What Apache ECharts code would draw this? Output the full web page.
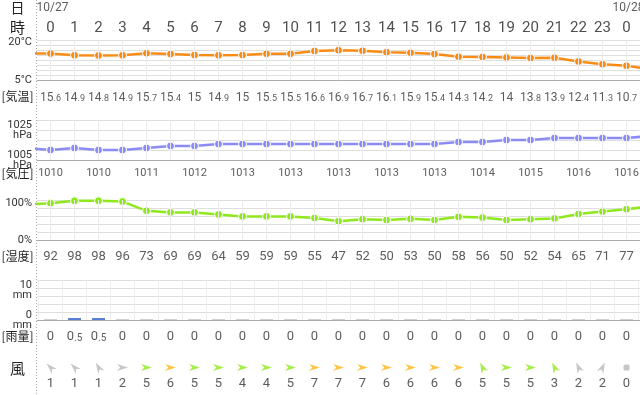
<!DOCTYPE html>
<html><head><meta charset="utf-8">
<script src="https://cdn.jsdelivr.net/npm/echarts@6/dist/echarts.min.js"></script>
<style>html,body{margin:0;padding:0;background:#fff}#c{width:640px;height:395px}</style>
</head><body><div id="c"></div>
<script>
// ---- data ----
const hours = [0,1,2,3,4,5,6,7,8,9,10,11,12,13,14,15,16,17,18,19,20,21,22,23,0];
const dateLabels = ['10/27','10/28'];
const temps = [15.6,14.9,14.8,14.9,15.7,15.4,15,14.9,15,15.5,15.5,16.6,16.9,16.7,16.1,15.9,15.4,14.3,14.2,14,13.8,13.9,12.4,11.3,10.7];
const tempEdges = [15.6, 9.3];          // partly visible hour before / after
const pressures = [1010,1011,1010,1010,1011,1012,1012,1013,1013,1013,1013,1013,1013,1013,1013,1013,1013,1014,1014,1015,1015,1016,1016,1016,1016];
const pressureEdges = [1011, 1017];
const humidity = [92,98,98,96,73,69,69,64,59,59,59,55,47,52,50,53,50,58,56,50,52,54,65,71,77];
const humidityEdges = [89, 84];
const rain = [0,0.5,0.5,0,0,0,0,0,0,0,0,0,0,0,0,0,0,0,0,0,0,0,0,0,0];
const windSpeed = [1,1,1,2,5,6,5,5,4,4,5,7,7,7,6,6,6,6,5,5,5,3,2,2,0];
const windDir = [135,135,120,0,0,0,0,0,0,0,0,0,0,0,0,0,0,0,115,0,0,115,115,65,null];
const tempTicks = [20, 5];
const pressureTicks = [1025, 1005];
const humidityTicks = [100, 0];
const rainTicks = [10, 0];

// ---- styles / layout ----
const C = {temp:'#fa8c16', pres:'#8b8bf8', hum:'#8ee81c', rainBar:'#5a7dd6', rainZero:'#cfcfcf',
  windGray:'#b8b8b8', windGreen:'#8ee81c', windOrange:'#ffb81c', grid:'#dedede', vgrid:'#ececec', axis:'#aaaaaa', text:'#333'};
const N = hours.length;
const X_MIN = -0.5625, X_MAX = 24.5625;
const NUMF = 'Roboto, sans-serif';
const CJK = '"Noto Sans CJK JP", sans-serif';
const ARROW = 'path://M10,4 L0,0 L3,4 L0,8 Z';

const grids = [
  {left:37, right:0, top:40, height:40},
  {left:37, right:0, top:120, height:40},
  {left:37, right:0, top:200, height:40},
  {left:37, right:0, top:280, height:40},
  {left:37, right:0, top:360, height:15}
];
const xAxes = grids.map((g,i)=>({type:'value', gridIndex:i, min:X_MIN, max:X_MAX,
  axisLine:{show:i<4, onZero:false, lineStyle:{color:C.axis}}, axisTick:{show:false}, axisLabel:{show:false}, splitLine:{show:false}}));

function yLabel(ticks, unit, nl){
  return v => ticks.includes(v) ? (v + (nl ? '\n' : '') + unit) : '';
}
const baseY = {type:'value', position:'left', axisLine:{show:false}, axisTick:{show:false}, splitLine:{show:true, lineStyle:{color:C.grid}}};
const yAxes = [
  Object.assign({}, baseY, {gridIndex:0, min:5, max:21, interval:2, axisLabel:{show:false}}),
  {type:'value', gridIndex:0, position:'left', min:5, max:21, interval:5, axisLine:{show:false}, axisTick:{show:false}, splitLine:{show:false},
    axisLabel:{formatter:yLabel(tempTicks,'°C'), margin:5, fontSize:11, color:C.text, fontFamily:'Roboto', showMaxLabel:false}},
  Object.assign({}, baseY, {gridIndex:1, min:1005, max:1025, interval:5,
    axisLabel:{formatter:yLabel(pressureTicks,'hPa',true), margin:5, fontSize:11, lineHeight:10, color:C.text, fontFamily:'Roboto',
      verticalAlignMaxLabel:'top', verticalAlignMinLabel:'middle', padding:[0,0,8,0]}}),
  Object.assign({}, baseY, {gridIndex:2, min:0, max:100, interval:20,
    axisLabel:{formatter:yLabel(humidityTicks,'%'), margin:5, fontSize:11, lineHeight:6, color:C.text, fontFamily:'Roboto',
      verticalAlignMaxLabel:'top', verticalAlignMinLabel:'middle'}}),
  Object.assign({}, baseY, {gridIndex:3, min:0, max:10, interval:2,
    axisLabel:{formatter:yLabel(rainTicks,'mm',true), margin:5, fontSize:11, lineHeight:10, color:C.text, fontFamily:'Roboto',
      verticalAlignMaxLabel:'top', verticalAlignMinLabel:'middle', padding:[0,0,8,0]}}),
  {type:'value', gridIndex:4, min:0, max:1, show:false}
];

function richNum(v){
  const s = String(v); const parts = s.split('.');
  return parts.length > 1 ? `{a|${parts[0]}}{b|.${parts[1]}}` : `{a|${parts[0]}}`;
}
function richStyle(font, big, small){
  return {a:{fontSize:big, fontFamily:font, color:C.text, verticalAlign:'bottom', lineHeight:15},
          b:{fontSize:small, fontFamily:font, color:C.text, verticalAlign:'bottom', lineHeight:15}};
}

function textRow(ax, items, yAnchor, offY, fmt, extra){
  return {type:'scatter', xAxisIndex:ax, yAxisIndex:ax===0?0:ax+1, silent:true, z:6, symbolSize:1,
    itemStyle:{color:'rgba(0,0,0,0)'},
    data: items.map(it=>({value:[it[0], yAnchor], name:String(it[1])})),
    label: Object.assign({show:true, position:'inside', offset:[0,offY], formatter:p=>fmt(p.name), color:C.text}, extra||{})};
}
function vLines(ax, positions){
  return {type:'line', xAxisIndex:ax, yAxisIndex:ax===0?0:ax+1, data:[], silent:true, z:1,
    markLine:{silent:true, symbol:['none','none'], label:{show:false}, animation:false,
      lineStyle:{color:C.vgrid, width:1, type:'solid'}, data:positions.map(x=>({xAxis:x}))}};
}
function lineSeries(ax, vals, edges, color){
  const data = [[-1, edges[0]]].concat(vals.map((v,i)=>[i,v]), [[N, edges[1]]]);
  return {type:'line', xAxisIndex:ax, yAxisIndex:ax===0?0:ax+1, data, clip:true, z:3,
    symbol:'circle', symbolSize:8, lineStyle:{color, width:2.5}, itemStyle:{color, borderColor:'#fff', borderWidth:1}};
}
const idx = hours.map((h,i)=>i);
const windColor = s => s >= 6 ? C.windOrange : (s >= 3 ? C.windGreen : C.windGray);

const series = [
  vLines(0, idx), vLines(1, idx), vLines(2, idx), vLines(3, idx.concat([N]).map(i=>i-0.5)),
  lineSeries(0, temps, tempEdges, C.temp),
  lineSeries(1, pressures, pressureEdges, C.pres),
  lineSeries(2, humidity, humidityEdges, C.hum),
  {type:'bar', xAxisIndex:3, yAxisIndex:4, barWidth:13, barMinHeight:1, z:3,
    data: rain.map((r,i)=>({value:[i,r], itemStyle:{color: r>0 ? C.rainBar : C.rainZero}}))},
  // date row
  textRow(0, hours.map((h,i)=>[i,h]).filter(d=>d[1]===0).map((d,k)=>[d[0], dateLabels[k]]), 21, -32, s=>s,
    {align:'left', offset:[-14,-32], fontSize:12, fontFamily:'Roboto'}),
  // hour row
  textRow(0, hours.map((h,i)=>[i,h]), 21, -11.5, s=>s, {fontSize:15, fontFamily:'Roboto', color:'#222'}),
  textRow(0, temps.map((v,i)=>[i,v]), 5, 16, richNum, {rich:richStyle(NUMF, 12, 9)}),
  textRow(1, pressures.map((v,i)=>[i,v]).filter(d=>d[0]%2===0), 1005, 13, s=>s, {fontSize:11, fontFamily:NUMF}),
  textRow(2, humidity.map((v,i)=>[i,v]), 0, 16, richNum, {rich:richStyle(NUMF, 13, 10)}),
  textRow(3, rain.map((v,i)=>[i,v]), 0, 16, richNum, {rich:richStyle(NUMF, 13, 10)}),
  {type:'scatter', xAxisIndex:4, yAxisIndex:5, silent:true, z:5,
    data: windSpeed.map((s,i)=>({value:[i,0.5], name:String(s),
      symbol: windDir[i]===null ? 'roundRect' : ARROW,
      symbolSize: windDir[i]===null ? [6,6] : [11,7],
      symbolRotate: windDir[i]===null ? 0 : windDir[i],
      itemStyle:{color:windColor(s)}})),
    label:{show:true, position:'inside', offset:[0,16.5], formatter:p=>p.name, color:C.text, fontSize:13, fontFamily:NUMF}}
];

const leftLabels = [
  ['日', 8, 14], ['時', 27.5, 15], ['[気温]', 96.5, 12], ['[気圧]', 173.5, 12],
  ['[湿度]', 256, 12], ['[雨量]', 336, 12], ['風', 368, 15]
];
const graphic = [
  {type:'line', shape:{x1:36.5, y1:0, x2:36.5, y2:395}, style:{stroke:'#aaa', lineWidth:1, lineDash:[1,2]}, z:10, silent:true}
].concat(leftLabels.map(l=>({type:'text', x:17.5, y:l[1], z:10, silent:true,
  style:{text:l[0], fill:'#222', font:`${l[2]}px ${CJK}`, textAlign:'center', textVerticalAlign:'middle'}})));

const chart = echarts.init(document.getElementById('c'), null, {width:640, height:395});
chart.setOption({animation:false, backgroundColor:'#fff', grid:grids, xAxis:xAxes, yAxis:yAxes, series, graphic});
</script></body></html>
